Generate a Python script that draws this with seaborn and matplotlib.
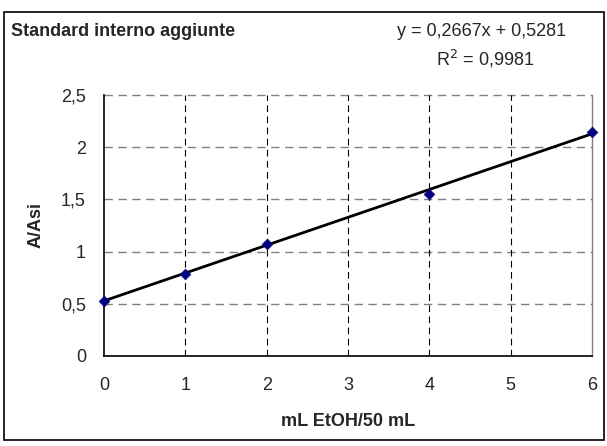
import matplotlib
matplotlib.use("Agg")
import matplotlib.pyplot as plt
import seaborn as sns
import numpy as np
import pandas as pd
from matplotlib.patches import Rectangle

x_vals = [0, 1, 2, 4, 6]
y_vals = [0.53, 0.79, 1.07, 1.555, 2.15]
x_ticks = [0, 1, 2, 3, 4, 5, 6]
x_tick_labels = ["0", "1", "2", "3", "4", "5", "6"]
y_ticks = [0, 0.5, 1, 1.5, 2, 2.5]
y_tick_labels = ["0", "0,5", "1", "1,5", "2", "2,5"]
slope = 0.2667
intercept = 0.5281

sns.set_style("white")
plt.rcParams['font.family'] = ['Liberation Sans', 'DejaVu Sans']

df = pd.DataFrame({"x": x_vals, "y": y_vals})
fig = plt.figure(figsize=(6.07, 4.46), dpi=100)
ax = fig.add_axes([104/607, 1-356/446, (592-104)/607, (356-95)/446])

# gridlines
for yt in y_ticks[1:]:
    ax.axhline(yt, color="#808080", lw=1, ls=(0, (6, 4)), zorder=1, clip_on=False)
for xt in x_ticks[1:-1]:
    ax.axvline(xt, color="black", lw=0.8, ls=(0, (6, 4)), zorder=1)

# trend line
lx = np.array([0, 6])
sns.lineplot(x=lx, y=slope*lx + intercept, ax=ax, color="black", lw=2, zorder=3)
sns.scatterplot(data=df, x="x", y="y", ax=ax, marker="D", s=30, color="#000080",
                edgecolor="#000080", zorder=4, clip_on=False)

ax.set_xlim(0, 6)
ax.set_ylim(0, 2.5)
ax.set_xticks(x_ticks)
ax.set_xticklabels(x_tick_labels, fontsize=13)
ax.set_yticks(y_ticks)
ax.set_yticklabels(y_tick_labels, fontsize=13)
ax.tick_params(axis="both", direction="out", length=5, width=1, color="black", pad=8)
ax.tick_params(axis="x", pad=10)
ax.set_xlabel("mL EtOH/50 mL", fontsize=13, fontweight="bold", labelpad=14)
ax.set_ylabel("A/Asi", fontsize=13, fontweight="bold", labelpad=12)

for s in ["left", "bottom"]:
    ax.spines[s].set_color("black")
    ax.spines[s].set_linewidth(1.2)
ax.spines["right"].set_color("#808080")
ax.spines["right"].set_linewidth(1)
ax.spines["top"].set_visible(False)

fig.text(11/607, 1-31/446, "Standard interno aggiunte", fontsize=13, fontweight="bold",
         va="center", ha="left")
fig.text(482/607, 1-31/446, "y = 0,2667x + 0,5281", fontsize=13, va="center", ha="center")
fig.text(485/607, 1-59/446, r"R$^2$ = 0,9981", fontsize=13, va="center", ha="center")

fig.patches.append(Rectangle((3.5/607, 1-440/446), 600/607, (440-12)/446,
                             transform=fig.transFigure, fill=False,
                             edgecolor="black", lw=1.2))

fig.savefig("out.png", dpi=100)
